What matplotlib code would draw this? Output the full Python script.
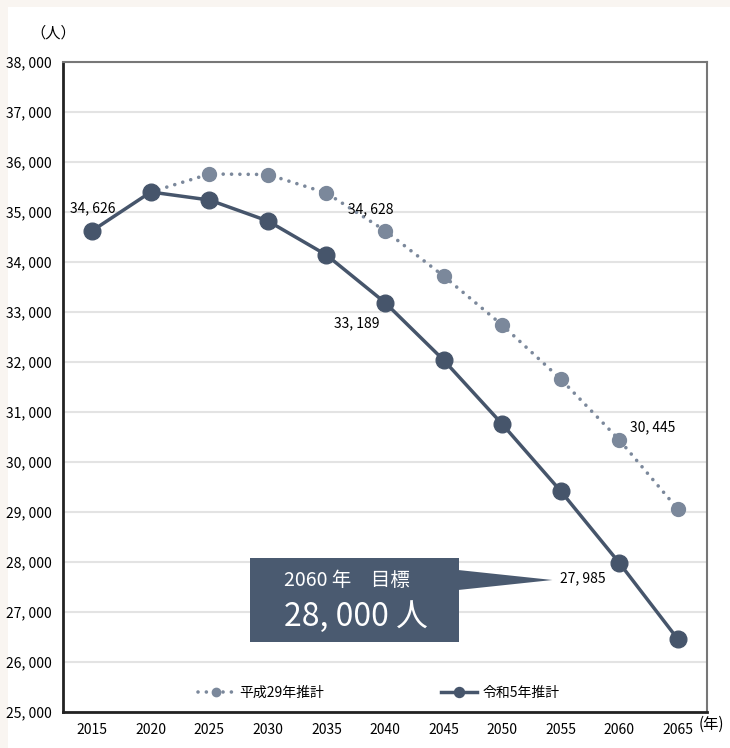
import matplotlib.pyplot as plt
from matplotlib.patches import Rectangle, Polygon

plt.rcParams['font.family'] = ['Noto Sans CJK JP', 'DejaVu Sans']

# Population projections (persons)
years = ['2015', '2020', '2025', '2030', '2035', '2040', '2045', '2050', '2055', '2060', '2065']
h29 = [34626, 35400, 35760, 35750, 35380, 34628, 33720, 32740, 31660, 30445, 29060]
r5 = [34626, 35400, 35240, 34820, 34140, 33189, 32040, 30760, 29420, 27985, 26460]
h29_name = '平成29年推計'
r5_name = '令和5年推計'
yticks = [25000, 26000, 27000, 28000, 29000, 30000, 31000, 32000, 33000, 34000, 35000, 36000, 37000, 38000]

dark = '#46556b'
light = '#7b889b'

fig = plt.figure(figsize=(7.3, 7.48), dpi=100, facecolor='#f9f5f1')
panel = Rectangle((8 / 730, 0), 1, 1 - 7 / 748, transform=fig.transFigure,
                  facecolor='white', edgecolor='none', zorder=-10)
fig.add_artist(panel)
ax = fig.add_axes([63 / 730, 1 - 712 / 748, 644 / 730, 650 / 748])
ax.set_facecolor('white')

x = list(range(len(years)))
ax.plot(x[1:], h29[1:], color=light, linestyle=(0, (0.01, 2.3)), linewidth=2.6,
        dash_capstyle='round', marker='o', markersize=10, markerfacecolor=light,
        markeredgecolor=light, label=h29_name, zorder=3)
ax.plot(x, r5, color=dark, linewidth=2.5, marker='o', markersize=12,
        markerfacecolor=dark, markeredgecolor=dark, label=r5_name, zorder=4)

def fmt(v):
    return f'{v:,}'.replace(',', ', ')

# value labels
ax.annotate(fmt(r5[0]), (0, r5[0]), xytext=(0, 11), textcoords='offset points',
            ha='center', va='bottom', fontsize=10)
ax.annotate(fmt(h29[5]), (5, h29[5]), xytext=(-10, 10), textcoords='offset points',
            ha='center', va='bottom', fontsize=10)
ax.annotate(fmt(r5[5]), (5, r5[5]), xytext=(-4, -10), textcoords='offset points',
            ha='right', va='top', fontsize=10)
ax.annotate(fmt(h29[9]), (9, h29[9]), xytext=(8, 4), textcoords='offset points',
            ha='left', va='bottom', fontsize=10)
ax.annotate(fmt(r5[9]), (9, r5[9]), xytext=(-10, -6), textcoords='offset points',
            ha='right', va='top', fontsize=10)

ax.set_xlim(-0.5, 10.5)
ax.set_ylim(25000, 38000)
ax.set_xticks(x)
ax.set_xticklabels(years)
ax.set_yticks(yticks)
ax.set_yticklabels([fmt(v) for v in yticks])
ax.tick_params(length=0, labelsize=10, pad=8)
ax.grid(axis='y', color='#e3e3e3', linewidth=1.5)
ax.set_axisbelow(True)
for s in ['left', 'bottom']:
    ax.spines[s].set_color('#222222')
    ax.spines[s].set_linewidth(2)
for s in ['top', 'right']:
    ax.spines[s].set_color('#777777')
    ax.spines[s].set_linewidth(1.5)

# callout box for the 2060 target
box = '#4a5a70'
ax.add_patch(Rectangle((2.70, 26400), 3.56, 1680, facecolor=box, edgecolor='none', zorder=5))
ax.add_patch(Polygon([(6.25, 27840), (6.25, 27440), (7.86, 27640)], closed=True,
                     facecolor=box, edgecolor='none', zorder=5))
ax.text(3.28, 27640, '2060 年\u3000目標', color='white', fontsize=14, ha='left', va='center', zorder=6)
ax.text(3.28, 26900, '28, 000 人', color='white', fontsize=23, ha='left', va='center', zorder=6)

ax.legend(loc='lower left', bbox_to_anchor=(0.19, 0.0), ncol=2, frameon=False,
          fontsize=10, columnspacing=8.4, handlelength=2.6, handletextpad=0.4,
          markerscale=0.6)

fig.text(30 / 730, 1 - 33 / 748, '（人）', fontsize=11, ha='left', va='center')
fig.text(699 / 730, 1 - 724 / 748, '(年)', fontsize=11, ha='left', va='center')

fig.savefig('out.png', dpi=100, facecolor=fig.get_facecolor())
